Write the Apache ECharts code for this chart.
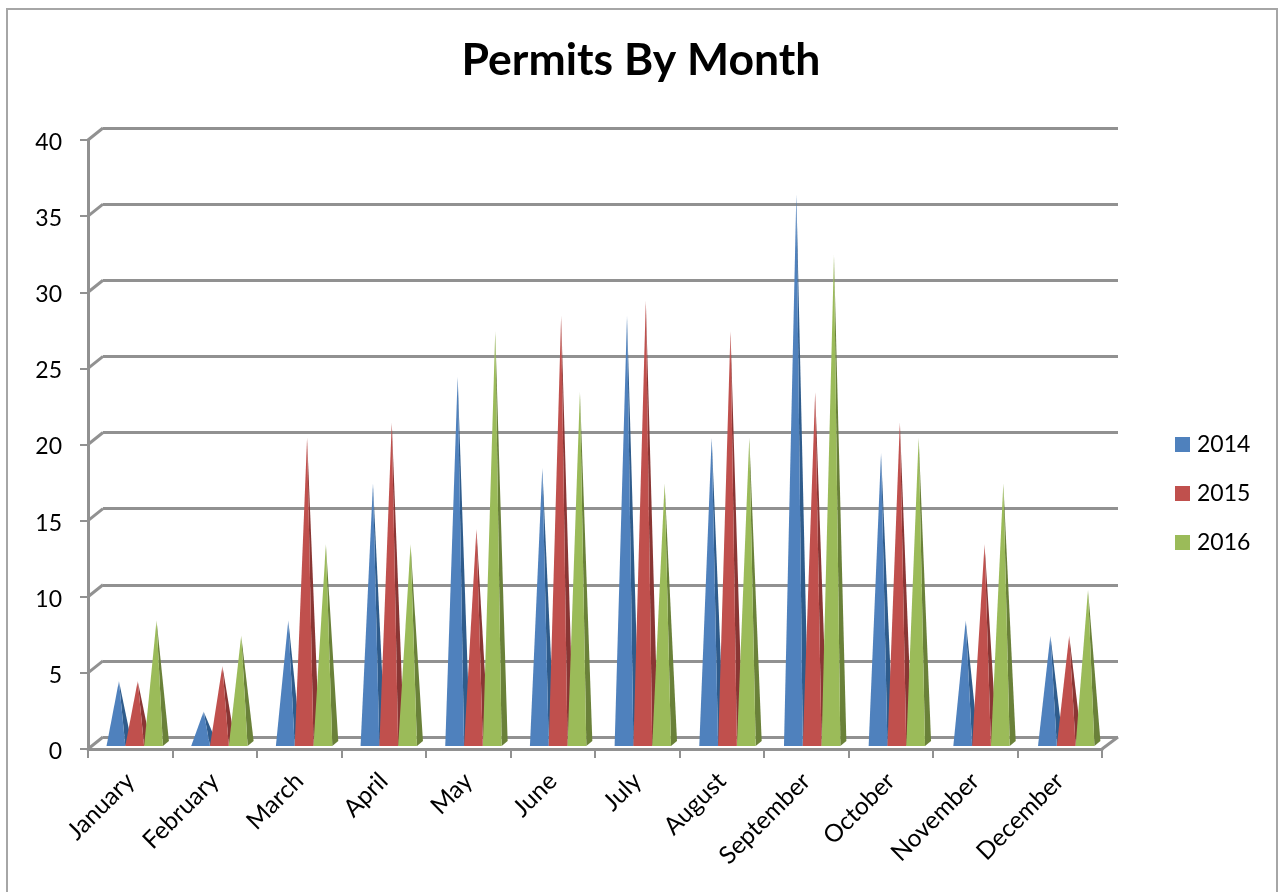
<!DOCTYPE html>
<html><head><meta charset="utf-8">
<style>html,body{margin:0;padding:0;background:#fff}#c{width:1282px;height:892px}</style>
<script src="https://cdn.jsdelivr.net/npm/echarts@6/dist/echarts.min.js"></script>
</head><body><div id="c"></div>
<script>
const months = ['January','February','March','April','May','June','July','August','September','October','November','December'];
const years = ['2014','2015','2016'];
const v2014 = [4,2,8,17,24,18,28,20,36,19,8,7];
const v2015 = [4,5,20,21,14,28,29,27,23,21,13,7];
const v2016 = [8,7,13,13,27,23,17,20,32,20,17,10];
const yTicks = [0,5,10,15,20,25,30,35,40];
const fronts = ['#4F81BD','#C0504D','#9BBB59'];
const sides = ['#2F5C8C','#8A3634','#6A8139'];
const FONT = 'Lato';
const GRAY = '#919191';

function pyramid(idx){
  return function(params, api){
    const band = api.size([1,0])[0];
    const barW = band*0.2225;
    const p = api.coord([api.value(0), api.value(1)]);
    const b = api.coord([api.value(0), 0]);
    const cx = p[0] + band*0.053 + (idx-1)*barW + api.value(0)*0.18;
    const baseY = b[1]-3;
    const apex = [cx+3, p[1]-7];
    const L = cx-barW/2, R = cx+barW/2;
    const h = Math.max(baseY-apex[1],1);
    const fade = Math.min(6/h,0.15);
    const grad = c => new echarts.graphic.LinearGradient(0,0,0,1,[
      {offset:0,color:echarts.color.lift(c,0.45)},{offset:fade,color:c},{offset:1,color:c}]);
    return {type:'group',children:[
      {type:'polygon',shape:{points:[apex,[R,baseY],[R+6,baseY-5]]},style:{fill:grad(sides[idx])}},
      {type:'polygon',shape:{points:[apex,[L,baseY],[R,baseY]]},style:{fill:grad(fronts[idx])}}
    ]};
  };
}
function diagonals(params, api){
  const sys = params.coordSys;
  const y = api.coord([0, api.value(0)])[1];
  const st = {stroke:GRAY,lineWidth:3,fill:null};
  const kids = [{type:'line',shape:{x1:sys.x,y1:y,x2:sys.x+15,y2:y-12},style:st}];
  if(api.value(0)===0) kids.push({type:'line',shape:{x1:sys.x+sys.width,y1:y,x2:sys.x+sys.width+16,y2:y-12},style:st});
  return {type:'group',children:kids};
}
const chart = echarts.init(document.getElementById('c'),null,{renderer:'canvas'});
const vals = [v2014,v2015,v2016];
chart.setOption({
  animation:false,
  backgroundColor:'#fff',
  title:{text:'Permits By Month',left:'center',top:33,textStyle:{fontFamily:FONT,fontWeight:'bold',fontSize:44.5,color:'#000'}},
  legend:{data:years,orient:'vertical',left:1175,top:433,padding:0,icon:'rect',itemWidth:15,itemHeight:15,itemGap:26,
    textStyle:{fontFamily:FONT,fontSize:23,color:'#000',padding:[0,0,0,2]}},
  graphic:[{type:'polyline',silent:true,z:-1,shape:{points:[[7,892],[7,9],[1277,9],[1277,892]]},style:{stroke:'#A6A6A6',lineWidth:2,fill:null}}],
  grid:[
    {left:88,width:1014,top:140,height:609},
    {left:103,width:1015,top:128,height:609}
  ],
  xAxis:[
    {type:'category',gridIndex:0,data:months,boundaryGap:true,
      axisLine:{lineStyle:{color:GRAY,width:3}},
      axisTick:{show:true,alignWithLabel:false,length:9,lineStyle:{color:GRAY,width:2}},
      axisLabel:{rotate:45,interval:0,margin:28,fontFamily:FONT,fontSize:24.5,color:'#000'}},
    {type:'category',gridIndex:1,data:months,show:false}
  ],
  yAxis:[
    {type:'value',gridIndex:0,min:0,max:40,interval:5,
      axisLine:{show:true,lineStyle:{color:GRAY,width:3}},
      axisTick:{show:true,length:8,lineStyle:{color:GRAY,width:2}},
      axisLabel:{margin:26,fontFamily:FONT,fontSize:23,color:'#000',verticalAlign:'top',lineHeight:5},
      splitLine:{show:false}},
    {type:'value',gridIndex:1,min:0,max:40,interval:5,
      axisLine:{show:false},axisTick:{show:false},axisLabel:{show:false},
      splitLine:{show:true,lineStyle:{color:GRAY,width:3}}}
  ],
  series:[
    {type:'custom',name:'diagonals',xAxisIndex:0,yAxisIndex:0,silent:true,z:1,clip:false,
      data:yTicks.map(t=>[t]),encode:{y:0},renderItem:diagonals},
    ...years.map((y,i)=>({
      type:'custom',name:y,xAxisIndex:0,yAxisIndex:0,z:5+i,clip:false,
      itemStyle:{color:fronts[i]},
      encode:{x:0,y:1},
      data:vals[i].map((v,m)=>[m,v]),
      renderItem:pyramid(i)
    }))
  ]
});
</script></body></html>
